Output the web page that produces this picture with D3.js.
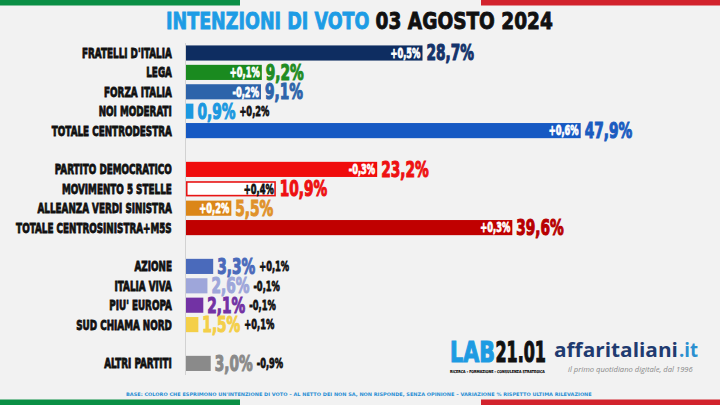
<!DOCTYPE html>
<html lang="it">
<head>
<meta charset="UTF-8">
<title>Intenzioni di voto 03 agosto 2024</title>
<style>
  body { margin: 0; background: #f2f2f2; }
  svg { display: block; }
  .axis path { stroke: #d2d2d2; }
</style>
</head>
<body>
<svg id="chart" width="720" height="405"></svg>
<script src="https://cdn.jsdelivr.net/npm/d3@7"></script>
<script>
// dati
const parties = ["FRATELLI D'ITALIA", "LEGA", "FORZA ITALIA", "NOI MODERATI", "TOTALE CENTRODESTRA",
  "PARTITO DEMOCRATICO", "MOVIMENTO 5 STELLE", "ALLEANZA VERDI SINISTRA", "TOTALE CENTROSINISTRA+M5S",
  "AZIONE", "ITALIA VIVA", "PIU' EUROPA", "SUD CHIAMA NORD", "ALTRI PARTITI"];
const values  = [28.7, 9.2, 9.1, 0.9, 47.9, 23.2, 10.9, 5.5, 39.6, 3.3, 2.6, 2.1, 1.5, 3.0];
const changes = [0.5, 0.1, -0.2, 0.2, 0.6, -0.3, 0.4, 0.2, 0.3, 0.1, -0.1, -0.1, 0.1, -0.9];
const groups  = [0, 0, 0, 0, 0, 1, 1, 1, 1, 2, 2, 2, 2, 3];
const barColors = ["#0e2d61", "#1a8a1f", "#2d64aa", "#1c98e0", "#1659c3",
  "#f00c0c", "#ffffff", "#db8618", "#c00000",
  "#4a6abb", "#9ea6da", "#7232a4", "#f4cf48", "#8a8a8a"];
const valueColors = ["#14336b", "#1f8c22", "#2d64aa", "#1c98e0", "#1a5cc0",
  "#ee1111", "#ee1111", "#e0922a", "#b80000",
  "#4a6abb", "#9ea6da", "#7232a4", "#f4cf48", "#8a8a8a"];

const svg = d3.select("#chart");
const W = 720, H = 405;
const HEAVY = { family: "'DejaVu Sans', sans-serif", weight: "bold", style: "normal" };

svg.append("rect").attr("width", W).attr("height", H).attr("fill", "#f2f2f2");

// bandiera in alto e in basso
[0, H - 5.5].forEach(yy => {
  svg.append("rect").attr("x", 0).attr("y", yy).attr("width", 240).attr("height", 5.5).attr("fill", "#0a8f45");
  svg.append("rect").attr("x", 481).attr("y", yy).attr("width", 239).attr("height", 5.5).attr("fill", "#d2232d");
});

const fmtVal = v => v.toFixed(1).replace(".", ",") + "%";
const fmtChg = v => (v < 0 ? "-" : "+") + Math.abs(v).toFixed(1).replace(".", ",") + "%";

function styled(t, size, f) {
  return t.style("font-family", f.family).style("font-weight", f.weight)
    .style("font-style", f.style).attr("font-size", size);
}
function natural(str, size, f = HEAVY) {
  const t = styled(svg.append("text"), size, f).text(str);
  const w = t.node().getComputedTextLength();
  t.remove();
  return w;
}

// testo compresso con scala orizzontale; len = larghezza voluta, anchor a sinistra
function squeezed(sel, x0, y0, len, size, color, sw, str, f = HEAVY) {
  const k = len / natural(str, size, f);
  const t = sel.append("g").attr("transform", `translate(${x0},${y0}) scale(${k},1)`)
    .append("text");
  styled(t, size, f).attr("fill", color).text(str);
  if (sw) t.attr("stroke", color).attr("stroke-width", sw);
  return t;
}

const labelSize = 14, valueSize = 20.5, chgSize = 13.5;
const kLabel = 90 / natural("FRATELLI D'ITALIA", labelSize);
const kValue = 38 / natural("9,2%", valueSize);
const kChg = 30 / natural("+0,1%", chgSize);

const rows = parties.map((p, i) => ({
  name: p, value: values[i], change: changes[i], slot: i + groups[i],
  bar: barColors[i], col: valueColors[i]
}));

const x = d3.scaleLinear().domain([0, 50]).range([186, 598]);
const y = d3.scaleBand().domain(d3.range(17)).range([43.3, 373.1])
  .paddingInner(0.22).paddingOuter(0.11);
const cy = d => y(d.slot) + y.bandwidth() / 2;

rows.forEach(d => {
  d.labW = natural(d.name, labelSize) * kLabel;
  d.valW = natural(fmtVal(d.value), valueSize) * kValue;
  d.chgW = natural(fmtChg(d.change), chgSize) * kChg;
  d.inside = (x(d.value) - x(0) - 4) > d.chgW;
});

// asse verticale
svg.append("g").attr("class", "axis")
  .attr("transform", "translate(185.5,0)")
  .call(d3.axisLeft(y).tickSize(0).tickFormat(""))
  .call(g => g.select(".domain").attr("d", `M0,43V375`));

// titolo
squeezed(svg, 166, 29.3, 203.5, 22.8, "#1d9ce5", 0.9, "INTENZIONI DI VOTO");
squeezed(svg, 375.6, 29.3, 177.4, 22.8, "#111", 0.9, "03 AGOSTO 2024");

// etichette partiti
const gLab = svg.append("g");
rows.forEach(d => squeezed(gLab, 172 - d.labW, cy(d) + 5, d.labW, labelSize, "#111", 0.9, d.name));

// barre
const isWhite = d => d.bar === "#ffffff";
svg.append("g").selectAll("rect").data(rows).join("rect")
  .attr("x", d => x(0) + (isWhite(d) ? 0.75 : 0))
  .attr("y", d => y(d.slot) + (isWhite(d) ? 0.75 : 0))
  .attr("width", d => x(d.value) - x(0) - (isWhite(d) ? 1.5 : 0))
  .attr("height", d => y.bandwidth() - (isWhite(d) ? 1.5 : 0))
  .attr("fill", d => d.bar)
  .attr("stroke", d => isWhite(d) ? "#e81414" : "none")
  .attr("stroke-width", 1.6);

// valori
const gVal = svg.append("g");
rows.forEach(d => squeezed(gVal, x(d.value) + 4, cy(d) + 7.4, d.valW, valueSize, d.col, 1.1, fmtVal(d.value)));

// variazioni
const gChg = svg.append("g");
rows.forEach(d => {
  const c = d.inside && !isWhite(d) ? "#fff" : "#111";
  const x0 = d.inside ? x(d.value) - 2 - d.chgW : x(d.value) + 4 + d.valW + 4;
  squeezed(gChg, x0, cy(d) + 4.8, d.chgW, chgSize, c, 0.8, fmtChg(d.change));
});

// loghi
squeezed(svg, 450, 361.5, 45, 28.5, "#1e9be2", 1.2, "LAB");
squeezed(svg, 495.5, 361.5, 50.5, 28.5, "#111", 1.2, "21.01");
squeezed(svg, 450, 372.5, 95, 4, "#111", 0.15, "RICERCA - FORMAZIONE - CONSULENZA STRATEGICA");

const OPEN_B = { family: "'Open Sans', sans-serif", weight: "bold", style: "normal" };
const OPEN_I = { family: "'Open Sans', sans-serif", weight: "normal", style: "italic" };
squeezed(svg, 554, 357, 124, 20, "#1f3b70", 0, "affaritaliani", OPEN_B);
squeezed(svg, 679, 357, 19, 20, "#2b8fd0", 0, ".it", OPEN_B);
squeezed(svg, 568, 371.5, 125, 8, "#8a8a8a", 0, "il primo quotidiano digitale, dal 1996", OPEN_I);

// nota in basso
squeezed(svg, 126, 395.6, 467, 4.8, "#2a8fd4", 0,
  "BASE: COLORO CHE ESPRIMONO UN'INTENZIONE DI VOTO – AL NETTO DEI NON SA, NON RISPONDE, SENZA OPINIONE – VARIAZIONE % RISPETTO ULTIMA RILEVAZIONE");
</script>
</body>
</html>
